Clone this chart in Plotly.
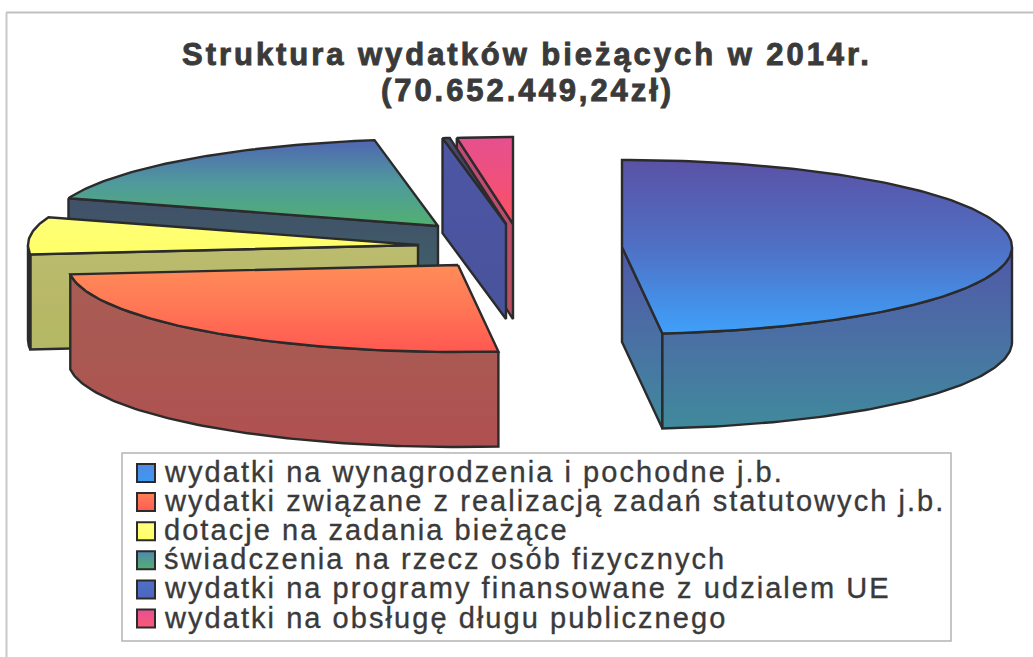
import numpy as np
import plotly.graph_objects as go

# --- data (share of spending, %)
categories = [
    "wydatki na wynagrodzenia i pochodne j.b.",
    "wydatki związane z realizacją zadań statutowych j.b.",
    "dotacje na zadania bieżące",
    "świadczenia na rzecz osób fizycznych",
    "wydatki na programy finansowane z udzialem UE",
    "wydatki na obsługę długu publicznego",
]
shares = [48.3, 24.9, 6.9, 17.2, 0.3, 2.3]
title_lines = ["Struktura wydatków bieżących w 2014r.", "(70.652.449,24zł)"]

# --- styling: pie projection and per-slice explosion
CX, CY = 480, 240
RX, RY, DEPTH = 390, 87, 95
explode_dx = [142, -22, -62, -42, 26, 33]
explode_dy = [7, 25, 5, -14, -16, -16]
top_scales = [
    ["#5a52a6", "#4f70c4", "#3fa0fa"],
    ["#ff8c58", "#ff7656", "#ff5850"],
    ["#ffff78", "#ffff70", "#ffff68"],
    ["#4f66b2", "#4f9a9c", "#52b070"],
    ["#4a4a70", "#404060", "#333350"],
    ["#e6508f", "#f0507c", "#ff5060"],
]
wall_scales = [
    ["#5058a8", "#4a70a4", "#408a9c"],
    ["#a85c54", "#aa5852", "#b05050"],
    ["#bcbc70", "#b8b868", "#b4b864"],
    ["#405068", "#405c68", "#3f7a68"],
    ["#4c56a2", "#4a54a0", "#4a549c"],
    ["#c04a78", "#bc4c6c", "#b85060"],
]
legend_scales = [
    ["#4f8ae8", "#3f98f0"],
    ["#ff8058", "#ff5c50"],
    ["#ffff80", "#ffff68"],
    ["#4f88b0", "#52b070"],
    ["#5070c8", "#4c66bc"],
    ["#e85090", "#f85a78"],
]
EDGE = "#2b2b2b"
TEXT = "#3a3a3a"
draw_order = [5, 4, 3, 2, 1, 0]

fig = go.Figure()


def rim(c, t1, t2):
    n = max(2, int(abs(t2 - t1)) + 2)
    t = np.radians(np.linspace(t1, t2, n))
    return c[0] + RX * np.sin(t), c[1] - RY * np.cos(t)


def poly(xs, ys, scale):
    # the y axis runs downwards, so the gradient stops run from bottom colour to top colour
    rev = scale[::-1]
    stops = [[i / (len(rev) - 1), col] for i, col in enumerate(rev)]
    fig.add_trace(go.Scatter(
        x=np.r_[xs, xs[0]], y=np.r_[ys, ys[0]], mode="lines", fill="toself",
        line=dict(color=EDGE, width=2.4),
        fillgradient=dict(type="vertical", colorscale=stops),
        hoverinfo="skip", showlegend=False,
    ))


ends = np.cumsum(shares) / np.sum(shares) * 360
starts = np.r_[0, ends[:-1]]

for i in draw_order:
    c = (CX + explode_dx[i], CY + explode_dy[i])
    t1, t2 = starts[i], ends[i]
    # radial cut faces that look towards the viewer
    if 180 < t1 < 360:
        px, py = rim(c, t1, t1)
        poly(np.array([px[0], c[0], c[0], px[0]]),
             np.array([py[0], c[1], c[1] + DEPTH, py[0] + DEPTH]), wall_scales[i])
    if 0 < t2 < 180:
        px, py = rim(c, t2, t2)
        poly(np.array([px[0], c[0], c[0], px[0]]),
             np.array([py[0], c[1], c[1] + DEPTH, py[0] + DEPTH]), wall_scales[i])
    # outer wall on the front half of the pie
    a, b = max(t1, 90), min(t2, 270)
    if b > a:
        px, py = rim(c, a, b)
        poly(np.r_[px, px[::-1]], np.r_[py, py[::-1] + DEPTH], wall_scales[i])
    # top surface
    px, py = rim(c, t1, t2)
    poly(np.r_[c[0], px], np.r_[c[1], py], top_scales[i])

# --- legend panel
LEG_X, LEG_TX, LEG_Y0, LEG_DY = 146, 162, 473, 29.1
for i, name in enumerate(categories):
    y = LEG_Y0 + i * LEG_DY
    fig.add_trace(go.Scatter(
        x=[LEG_X], y=[y], mode="markers", hoverinfo="skip", showlegend=False,
        marker=dict(symbol="square", size=18, color=legend_scales[i][0],
                    gradient=dict(type="vertical", color=legend_scales[i][1]),
                    line=dict(color=EDGE, width=2)),
    ))
    fig.add_annotation(x=LEG_TX, y=y - 1, text=name, showarrow=False, xanchor="left", yanchor="middle",
                       align="left", font=dict(family="Liberation Sans", size=29, color=TEXT))

# second title line
fig.add_annotation(x=527, y=90, text=title_lines[1], showarrow=False, xanchor="center", yanchor="middle",
                   font=dict(family="Liberation Sans", size=31, color=TEXT, weight="bold"))

fig.update_layout(
    width=1033, height=657,
    margin=dict(l=0, r=0, t=0, b=0),
    paper_bgcolor="#ffffff", plot_bgcolor="#ffffff",
    showlegend=False,
    title=dict(text=title_lines[0], x=527 / 1033, xanchor="center", y=1 - 54 / 657, yanchor="middle",
               font=dict(family="Liberation Sans", size=31, color=TEXT, weight="bold")),
    xaxis=dict(range=[0, 1033], visible=False, fixedrange=True),
    yaxis=dict(range=[657, 0], visible=False, fixedrange=True),
    shapes=[
        dict(type="line", xref="x", yref="y", x0=6, y0=12.5, x1=1033, y1=12.5, layer="below",
             line=dict(color="#c0c0c0", width=2)),
        dict(type="line", xref="x", yref="y", x0=6.5, y0=12.5, x1=6.5, y1=657, layer="below",
             line=dict(color="#c8c8c8", width=2)),
        dict(type="rect", xref="x", yref="y", x0=122, y0=453, x1=951, y1=641, layer="below",
             line=dict(color="#b4b4b4", width=1.5), fillcolor="#ffffff"),
    ],
)

css = (
    ".annotation-text{letter-spacing:2.05px;stroke:#3a3a3a;stroke-width:.35px}"
    ".annotation[data-index='6'] .annotation-text,.gtitle{letter-spacing:2.95px;stroke:#3a3a3a;stroke-width:.9px}"
)
post = (
    "document.body.style.margin='0';document.body.style.overflow='hidden';"
    "var s=document.createElement('style');s.textContent=\"" + css + "\";document.head.appendChild(s);"
)
fig.write_html("out.html", post_script=post, config={"displayModeBar": False})
